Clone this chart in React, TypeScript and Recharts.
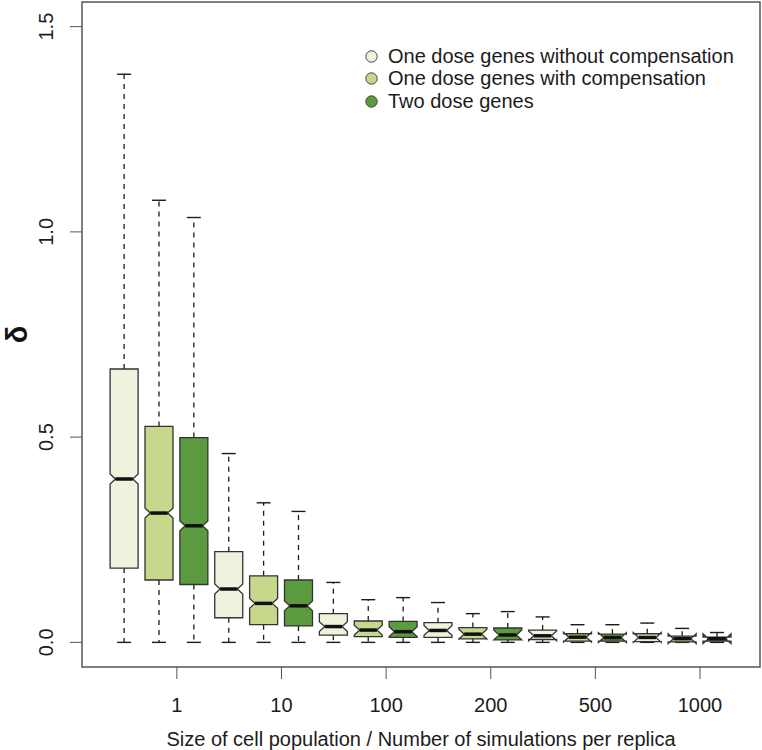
import { Bar, ComposedChart, Label, Legend, ReferenceArea, XAxis, YAxis } from "recharts";

const GROUPS = ["1", "10", "100", "200", "500", "1000"];
const SERIES = [
  "One dose genes without compensation",
  "One dose genes with compensation",
  "Two dose genes",
];
const COLORS = ["#edf3dc", "#c6d88b", "#5c9a40"];

// [lower whisker, Q1, median, Q3, upper whisker] for each group
const WITHOUT_COMP = [
  [0, 0.181, 0.398, 0.666, 1.384],
  [0, 0.06, 0.13, 0.221, 0.46],
  [0, 0.0175, 0.0385, 0.07, 0.146],
  [0, 0.012, 0.029, 0.048, 0.097],
  [0, 0.007, 0.016, 0.03, 0.062],
  [0, 0.002, 0.012, 0.021, 0.047],
];
const WITH_COMP = [
  [0, 0.152, 0.315, 0.526, 1.077],
  [0, 0.043, 0.095, 0.162, 0.34],
  [0, 0.014, 0.03, 0.052, 0.104],
  [0, 0.0085, 0.02, 0.036, 0.07],
  [0, 0.003, 0.0127, 0.021, 0.043],
  [0, 0.001, 0.009, 0.015, 0.034],
];
const TWO_DOSE = [
  [0, 0.141, 0.284, 0.499, 1.035],
  [0, 0.04, 0.089, 0.152, 0.319],
  [0, 0.012, 0.026, 0.051, 0.109],
  [0, 0.006, 0.018, 0.035, 0.075],
  [0, 0.003, 0.0117, 0.02, 0.043],
  [0, 0.003, 0.009, 0.013, 0.024],
];
const NOTCH = 0.012;
const Y_TICKS = [0, 0.5, 1.0, 1.5];

const rows = GROUPS.flatMap((group, gi) =>
  [WITHOUT_COMP, WITH_COMP, TWO_DOSE].map((s, si) => {
    const [lo, q1, med, q3, hi] = s[gi];
    return { pos: gi * 3 + si + 1, group, series: si, lo, q1, med, q3, hi, range: [lo, hi] };
  })
);
const xTicks = GROUPS.map((_, i) => i * 3 + 2.5);

const FONT = "'Liberation Sans', Arial, sans-serif";
const INK = "#1c1c1c";

function BoxShape(props: any) {
  const { x, y, width, height } = props;
  const d = props.payload ?? props;
  const top = Math.min(y, y + height);
  const h = Math.abs(height);
  const py = (v: number) => top + (h * (d.hi - v)) / (d.hi - d.lo);
  const cx = x + width / 2;
  const w = width / 2;
  const nw = w * 0.62;
  const cap = w / 2;
  const pts = [
    [cx - w, py(d.q1)],
    [cx - w, py(d.med - NOTCH)],
    [cx - nw, py(d.med)],
    [cx - w, py(d.med + NOTCH)],
    [cx - w, py(d.q3)],
    [cx + w, py(d.q3)],
    [cx + w, py(d.med + NOTCH)],
    [cx + nw, py(d.med)],
    [cx + w, py(d.med - NOTCH)],
    [cx + w, py(d.q1)],
  ]
    .map((p) => p.join(","))
    .join(" ");
  return (
    <g>
      <line x1={cx} x2={cx} y1={py(d.q3)} y2={py(d.hi)} stroke={INK} strokeWidth={1.3} strokeDasharray="5 5" />
      <line x1={cx} x2={cx} y1={py(d.q1)} y2={py(d.lo)} stroke={INK} strokeWidth={1.3} strokeDasharray="5 5" />
      <line x1={cx - cap} x2={cx + cap} y1={py(d.hi)} y2={py(d.hi)} stroke={INK} strokeWidth={1.4} />
      <line x1={cx - cap} x2={cx + cap} y1={py(d.lo)} y2={py(d.lo)} stroke={INK} strokeWidth={1.4} />
      <polygon points={pts} fill={COLORS[d.series]} stroke="#333" strokeWidth={1.3} />
      <line x1={cx - nw} x2={cx + nw} y1={py(d.med)} y2={py(d.med)} stroke="#111" strokeWidth={3.5} />
    </g>
  );
}

function YTick(props: any) {
  const { y, payload } = props;
  return (
    <text
      x={53}
      y={y}
      transform={`rotate(-90, 53, ${y})`}
      textAnchor="middle"
      fontSize={20}
      fontFamily={FONT}
      fill={INK}
    >
      {payload.value.toFixed(1)}
    </text>
  );
}

function LegendBox() {
  return (
    <div style={{ fontFamily: FONT, fontSize: 20, color: INK }}>
      {SERIES.map((name, i) => (
        <div key={name} style={{ display: "flex", alignItems: "center", height: 22.5, whiteSpace: "nowrap" }}>
          <svg width={13} height={13} style={{ marginRight: 10 }}>
            <circle cx={6.5} cy={6.5} r={5.7} fill={COLORS[i]} stroke="#444" strokeWidth={1} />
          </svg>
          <span>{name}</span>
        </div>
      ))}
    </div>
  );
}

export default function App() {
  return (
    <div style={{ position: "absolute", left: 0, top: 0, background: "#fff" }}>
      <ComposedChart
        width={762}
        height={750}
        data={rows}
        margin={{ top: 2, right: 2, bottom: 0, left: 0 }}
      >
        <XAxis
          type="number"
          dataKey="pos"
          domain={[-0.22, 19.22]}
          allowDataOverflow
          ticks={xTicks}
          tickFormatter={(v: number) => GROUPS[Math.round((v - 2.5) / 3)]}
          axisLine={false}
          tickLine={{ stroke: "#555" }}
          tickSize={12}
          tickMargin={19}
          height={83}
          tick={{ fontSize: 20, fontFamily: FONT, fill: INK }}
        >
          <Label
            value="Size of cell population / Number of simulations per replica"
            position="insideBottom"
            offset={4}
            style={{ fontSize: 20, fontFamily: FONT, fill: INK }}
          />
        </XAxis>
        <YAxis
          type="number"
          domain={[-0.06, 1.56]}
          allowDataOverflow
          ticks={Y_TICKS}
          axisLine={false}
          tickLine={{ stroke: "#555" }}
          tickSize={12}
          width={82}
          tick={<YTick />}
        >
          <Label
            content={(p: any) => {
              const vb = p.viewBox;
              const cy = vb.y + vb.height / 2;
              return (
                <text
                  x={27}
                  y={cy}
                  transform={`rotate(-90, 27, ${cy})`}
                  textAnchor="middle"
                  fontSize={29}
                  fontWeight="bold"
                  fontFamily={FONT}
                  fill="#111"
                >
                  δ
                </text>
              );
            }}
          />
        </YAxis>
        <ReferenceArea
          x1={-0.22}
          x2={19.22}
          y1={-0.06}
          y2={1.56}
          fill="none"
          stroke="#555"
          strokeWidth={1.5}
          ifOverflow="visible"
        />
        <Bar dataKey="range" barSize={28} shape={<BoxShape />} isAnimationActive={false} />
        <Legend
          layout="vertical"
          align="center"
          verticalAlign="middle"
          wrapperStyle={{ left: 365, top: 45, width: 395 }}
          content={() => <LegendBox />}
        />
      </ComposedChart>
    </div>
  );
}
